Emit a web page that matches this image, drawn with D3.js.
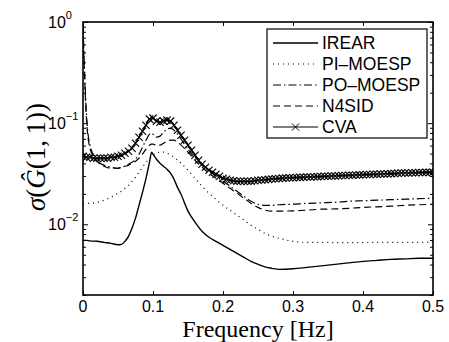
<!DOCTYPE html>
<html>
<head>
	<script src="https://cdn.jsdelivr.net/npm/d3@7/dist/d3.min.js"></script>
	<style>
		html, body {
			padding: 0;
			margin: 0;
			background: white;
		}
	</style>
</head>
<body>
	<script>
		var width = 449, height = 342;
		var left = 83, top_ = 22, right = 433, bottom = 295;

		/* data */
		var freq = [0, 0.005, 0.01, 0.02, 0.03, 0.04, 0.05, 0.055, 0.06, 0.065, 0.07, 0.075, 0.08, 0.085, 0.09, 0.095, 0.098,
			0.1, 0.105, 0.11, 0.115, 0.12, 0.125, 0.13, 0.135, 0.14, 0.15, 0.16, 0.17, 0.18, 0.19, 0.2, 0.21, 0.22, 0.23, 0.24,
			0.25, 0.26, 0.27, 0.28, 0.3, 0.32, 0.34, 0.36, 0.38, 0.4, 0.42, 0.44, 0.46, 0.48, 0.5];

		var irear = [0.00694, 0.00694, 0.00686, 0.00679, 0.00663, 0.00648, 0.00627, 0.00634, 0.00679, 0.00761, 0.00913, 0.0115, 0.0154, 0.0207, 0.0285, 0.0411, 0.0516,
			0.0493, 0.0440, 0.0402, 0.0375, 0.0350, 0.0320, 0.0279, 0.0232, 0.0198, 0.0135, 0.0105, 0.00852, 0.00744, 0.00679, 0.00620, 0.00566, 0.00516, 0.00471, 0.00430,
			0.00402, 0.00380, 0.00367, 0.00358, 0.00363, 0.00375, 0.00388, 0.00402, 0.00416, 0.00430, 0.00440, 0.00450, 0.00455, 0.00461, 0.00461];

		var piMoesp = [0.0161, 0.0161, 0.0161, 0.0165, 0.0173, 0.0185, 0.0203, 0.0212, 0.0227, 0.0243, 0.0266, 0.0292, 0.0327, 0.0367, 0.0411, 0.0440, 0.0461,
			0.0482, 0.0505, 0.0516, 0.0516, 0.0505, 0.0482, 0.0461, 0.0430, 0.0402, 0.0342, 0.0285, 0.0238, 0.0203, 0.0177, 0.0154, 0.0138, 0.0123, 0.0110, 0.00977,
			0.00892, 0.00814, 0.00761, 0.00727, 0.00679, 0.00663, 0.00663, 0.00660, 0.00660, 0.00660, 0.00663, 0.00663, 0.00663, 0.00663, 0.00663];

		var poMoesp = [0.934, 0.120, 0.0606, 0.0430, 0.0384, 0.0367, 0.0358, 0.0367, 0.0375, 0.0393, 0.0411, 0.0440, 0.0493, 0.0579, 0.0679, 0.0778, 0.0796,
			0.0778, 0.0727, 0.0744, 0.0814, 0.0872, 0.0892, 0.0852, 0.0778, 0.0694, 0.0553, 0.0450, 0.0384, 0.0335, 0.0299, 0.0266, 0.0238, 0.0212, 0.0189, 0.0169,
			0.0158, 0.0154, 0.0154, 0.0156, 0.0158, 0.0161, 0.0163, 0.0165, 0.0169, 0.0171, 0.0173, 0.0175, 0.0177, 0.0179, 0.0181];

		var n4sid = [0.872, 0.1071, 0.0566, 0.0421, 0.0375, 0.0358, 0.0358, 0.0367, 0.0375, 0.0384, 0.0402, 0.0421, 0.0450, 0.0493, 0.0553, 0.0606, 0.0620,
			0.0620, 0.0606, 0.0606, 0.0634, 0.0663, 0.0679, 0.0679, 0.0648, 0.0606, 0.0516, 0.0430, 0.0367, 0.0320, 0.0285, 0.0255, 0.0227, 0.0203, 0.0181, 0.0161,
			0.0147, 0.0138, 0.0135, 0.0135, 0.0136, 0.0138, 0.0141, 0.0142, 0.0144, 0.0147, 0.0149, 0.0151, 0.0154, 0.0156, 0.0158];

		var cvaFreq = [0, 0.005, 0.01, 0.015, 0.02, 0.025, 0.03, 0.035, 0.04, 0.045, 0.05, 0.055, 0.06, 0.065, 0.07, 0.075, 0.08, 0.085, 0.09, 0.095,
			0.1, 0.105, 0.11, 0.115, 0.12, 0.125, 0.13, 0.135, 0.14, 0.145, 0.15, 0.155, 0.16, 0.165, 0.17, 0.175, 0.18, 0.185, 0.19, 0.195,
			0.2, 0.205, 0.21, 0.215, 0.22, 0.225, 0.23, 0.235, 0.24, 0.245, 0.25, 0.255, 0.26, 0.265, 0.27, 0.275, 0.28, 0.285, 0.29, 0.295,
			0.3, 0.305, 0.31, 0.315, 0.32, 0.325, 0.33, 0.335, 0.34, 0.345, 0.35, 0.355, 0.36, 0.365, 0.37, 0.375, 0.38, 0.385, 0.39, 0.395,
			0.4, 0.405, 0.41, 0.415, 0.42, 0.425, 0.43, 0.435, 0.44, 0.445, 0.45, 0.455, 0.46, 0.465, 0.47, 0.475, 0.48, 0.485, 0.49, 0.495, 0.5];

		var cva = [0.0471, 0.0461, 0.0461, 0.0450, 0.0450, 0.0450, 0.0450, 0.0450, 0.0461, 0.0461, 0.0471, 0.0482, 0.0505, 0.0528, 0.0566, 0.0634, 0.0727, 0.0833, 0.0955, 0.1096,
			0.1121, 0.1047, 0.1023, 0.1047, 0.1071, 0.1047, 0.0955, 0.0852, 0.0761, 0.0679, 0.0606, 0.0540, 0.0482, 0.0430, 0.0393, 0.0367, 0.0342, 0.0327, 0.0313, 0.0299,
			0.0285, 0.0279, 0.0273, 0.0269, 0.0266, 0.0266, 0.0266, 0.0266, 0.0266, 0.0269, 0.0273, 0.0274, 0.0276, 0.0278, 0.0280, 0.0282, 0.0284, 0.0286, 0.0287, 0.0288,
			0.0289, 0.0290, 0.0291, 0.0292, 0.0293, 0.0294, 0.0295, 0.0296, 0.0297, 0.0298, 0.0299, 0.0300, 0.0301, 0.0302, 0.0303, 0.0304, 0.0305, 0.0306, 0.0307, 0.0308,
			0.0309, 0.0310, 0.0311, 0.0312, 0.0313, 0.0314, 0.0315, 0.0316, 0.0317, 0.0318, 0.0320, 0.0321, 0.0322, 0.0322, 0.0323, 0.0324, 0.0325, 0.0325, 0.0326, 0.0326, 0.0327];

		var xTicks = [0, 0.1, 0.2, 0.3, 0.4, 0.5];
		var xTickLabels = ["0", "0.1", "0.2", "0.3", "0.4", "0.5"];
		var yTicks = [1, 0.1, 0.01];
		var yTickExp = ["0", "\u22121", "\u22122"];
		var names = ["IREAR", "PI\u2013MOESP", "PO\u2013MOESP", "N4SID", "CVA"];
		var dashes = [null, "1,4", "8,3,1.5,3", "7,4", null];

		var sans = "'Liberation Sans', Arial, Helvetica, sans-serif";
		var serif = "'Liberation Serif', 'Times New Roman', serif";

		var svg = d3.select('body').append('svg')
			.attr('width', width)
			.attr('height', height)
			.style('background-color', 'white');

		var x = d3.scaleLinear().domain([0, 0.5]).range([left, right]);
		var y = d3.scaleLog().domain([0.002, 1]).range([bottom, top_]);

		svg.append("clipPath").attr("id", "clip")
			.append("rect")
			.attr("x", left).attr("y", top_)
			.attr("width", right - left).attr("height", bottom - top_);

		/* curves */
		var line = d3.line()
			.x(function(d) { return x(d[0]); })
			.y(function(d) { return y(d[1]); })
			.curve(d3.curveMonotoneX);

		var plot = svg.append("g").attr("clip-path", "url(#clip)");
		var series = [irear, piMoesp, poMoesp, n4sid];
		for (var i = 0; i < series.length; i++) {
			plot.append("path")
				.attr("d", line(d3.zip(freq, series[i])))
				.attr("fill", "none")
				.attr("stroke", "black")
				.attr("stroke-width", i == 0 ? 1.4 : 1.2)
				.attr("stroke-dasharray", dashes[i]);
		}

		var cvaPts = d3.zip(cvaFreq, cva);
		plot.append("path")
			.attr("d", line(cvaPts))
			.attr("fill", "none")
			.attr("stroke", "black")
			.attr("stroke-width", 1.3);

		var cross = d3.symbol().type(d3.symbolX).size(36);
		plot.selectAll(".cva").data(cvaPts).enter().append("path")
			.attr("class", "cva")
			.attr("d", cross)
			.attr("transform", function(d) { return "translate(" + x(d[0]) + "," + y(d[1]) + ")"; })
			.attr("fill", "none")
			.attr("stroke", "black")
			.attr("stroke-width", 1.1);

		/* ticks, MATLAB style: pointing inward on all sides */
		var xAxisB = d3.axisBottom(x).tickValues(xTicks).tickSizeInner(-4).tickSizeOuter(0).tickFormat("");
		var xAxisT = d3.axisTop(x).tickValues(xTicks).tickSizeInner(-4).tickSizeOuter(0).tickFormat("");
		svg.append("g").attr("transform", "translate(0," + bottom + ")").call(xAxisB);
		svg.append("g").attr("transform", "translate(0," + top_ + ")").call(xAxisT);

		var minor = y.ticks().filter(function(v) { return yTicks.indexOf(v) < 0; });
		[[d3.axisLeft, left], [d3.axisRight, right]].forEach(function(a) {
			svg.append("g").attr("transform", "translate(" + a[1] + ",0)")
				.call(a[0](y).tickValues(yTicks).tickSizeInner(-5).tickSizeOuter(0).tickFormat(""));
			svg.append("g").attr("transform", "translate(" + a[1] + ",0)")
				.call(a[0](y).tickValues(minor).tickSizeInner(-3).tickSizeOuter(0).tickFormat(""));
		});
		svg.selectAll(".domain").remove();
		svg.selectAll(".tick line").attr("stroke", "black").attr("stroke-width", 1);

		/* box */
		svg.append("rect")
			.attr("x", left).attr("y", top_)
			.attr("width", right - left).attr("height", bottom - top_)
			.attr("fill", "none")
			.attr("stroke", "black")
			.attr("stroke-width", 1.6);

		/* tick labels */
		svg.selectAll(".xlab").data(xTicks).enter().append("text")
			.attr("x", function(d) { return x(d); })
			.attr("y", 312)
			.attr("text-anchor", "middle")
			.style("font-family", sans)
			.style("font-size", "16px")
			.text(function(d, i) { return xTickLabels[i]; });

		var ylab = svg.selectAll(".ylab").data(yTicks).enter().append("text")
			.attr("x", 48)
			.attr("y", function(d) { return y(d) + 6; })
			.style("font-family", sans)
			.style("font-size", "16px");
		ylab.append("tspan").text("10");
		ylab.append("tspan")
			.attr("dy", -9)
			.style("font-size", "11px")
			.text(function(d, i) { return yTickExp[i]; });

		/* axis labels */
		svg.append("text")
			.attr("x", (left + right) / 2)
			.attr("y", 336.5)
			.attr("text-anchor", "middle")
			.style("font-family", serif)
			.style("font-size", "24px")
			.text("Frequency [Hz]");

		var yl = svg.append("text")
			.attr("transform", "translate(45," + 157 + ") rotate(-90)")
			.attr("text-anchor", "middle")
			.style("font-family", serif)
			.style("font-size", "27px");
		yl.append("tspan").style("font-style", "italic").text("\u03c3");
		yl.append("tspan").text("(");
		yl.append("tspan").style("font-style", "italic").text("\u011c");
		yl.append("tspan").text("(1,\u20091))");

		/* legend */
		var lg = svg.append("g");
		lg.append("rect")
			.attr("x", 267).attr("y", 29)
			.attr("width", 160).attr("height", 109)
			.attr("fill", "white")
			.attr("stroke", "black")
			.attr("stroke-width", 1.2);

		for (var j = 0; j < names.length; j++) {
			var ly = 43 + j * 21;
			lg.append("line")
				.attr("x1", 273).attr("x2", 318)
				.attr("y1", ly).attr("y2", ly)
				.attr("stroke", "black")
				.attr("stroke-width", j == 0 ? 1.4 : 1.2)
				.attr("stroke-dasharray", dashes[j]);
			lg.append("text")
				.attr("x", 322)
				.attr("y", ly + 6)
				.style("font-family", sans)
				.style("font-size", "17.5px")
				.text(names[j]);
		}
		lg.append("path")
			.attr("d", cross)
			.attr("transform", "translate(295.5," + (43 + 4 * 21) + ")")
			.attr("fill", "none")
			.attr("stroke", "black")
			.attr("stroke-width", 1);
	</script>
</body>
</html>
